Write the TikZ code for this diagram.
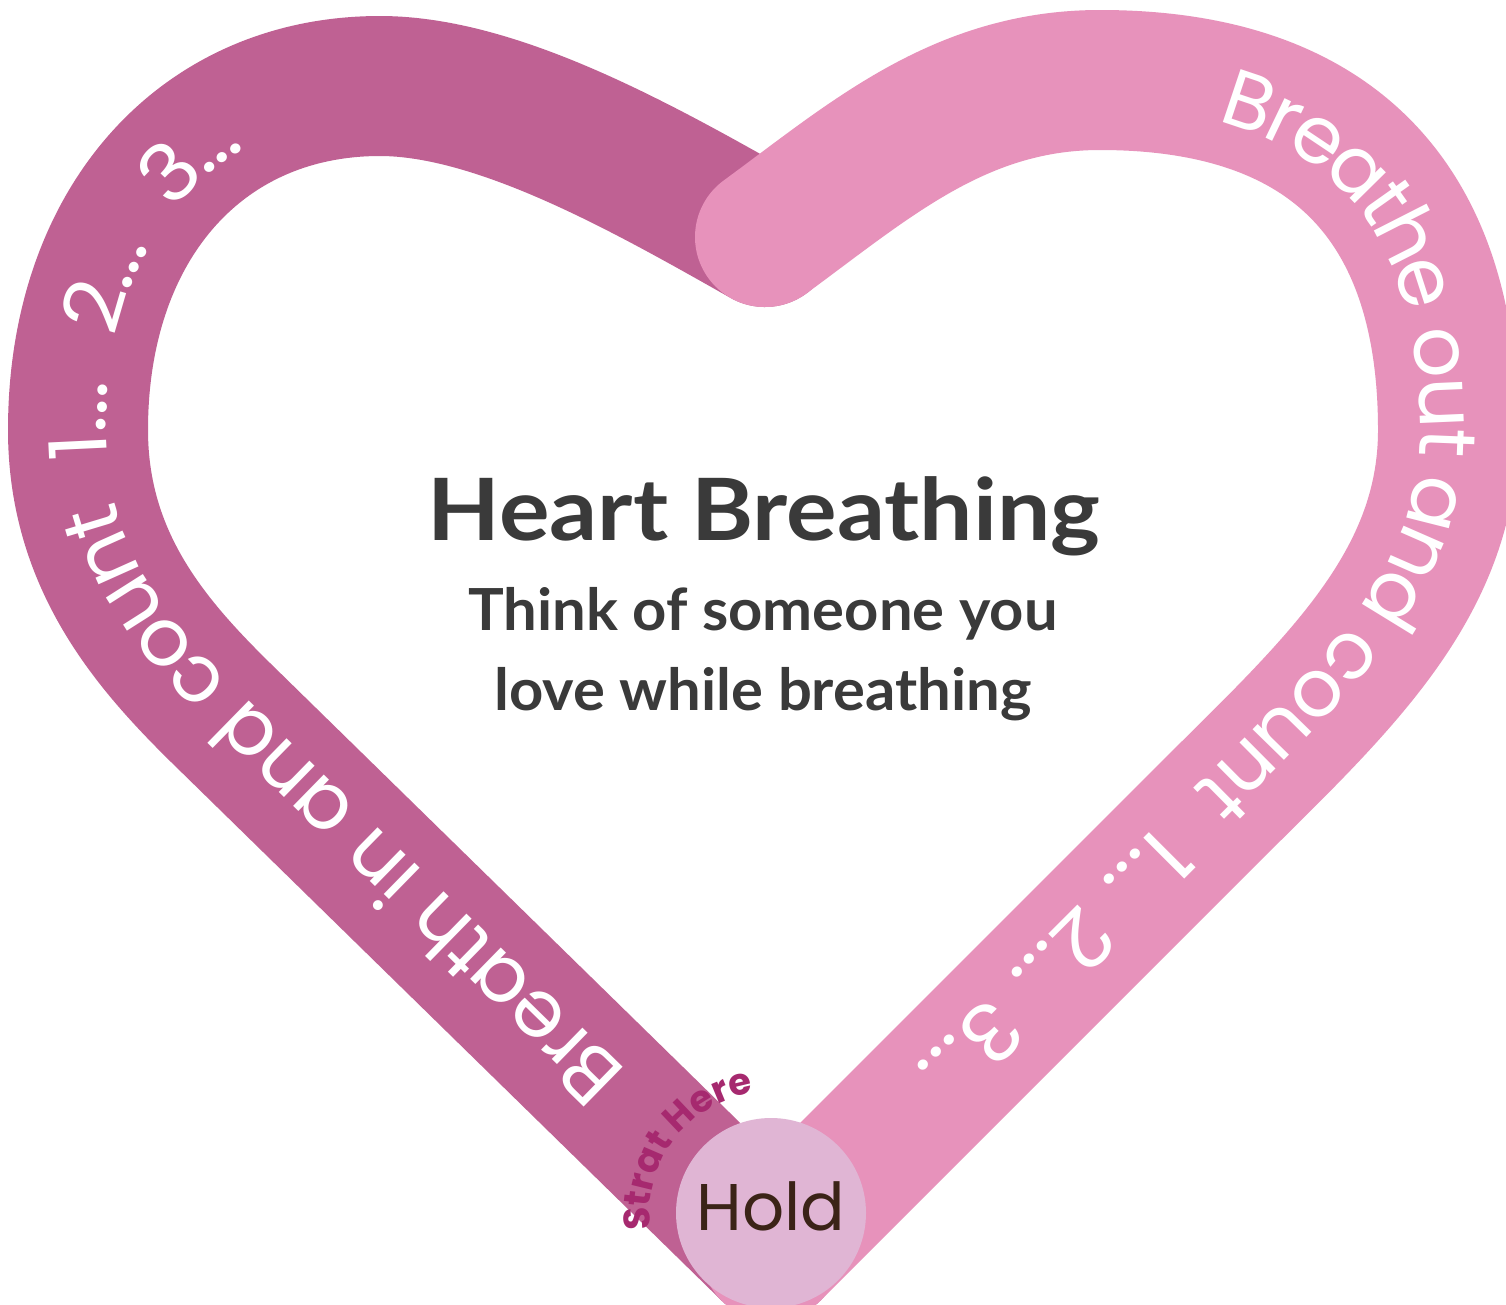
\documentclass[tikz,border=0pt]{standalone}
\usepackage{fontspec}
\usetikzlibrary{decorations.text}
\newfontfamily\titlefont{Lato}[FakeStretch=1.1]
\newfontfamily\subfont{Lato}[FakeStretch=1.03]
\newfontfamily\bandfont{Poppins}
\newfontfamily\gapfont{Poppins}[FakeStretch=1.001,WordSpace=2.3]
\newfontfamily\numleft{Poppins}[FakeStretch=1.07,WordSpace=2.2]
\newfontfamily\numright{Poppins}[FakeStretch=1.071,WordSpace=1.2]
\newfontfamily\holdfont{Poppins}
\definecolor{darkband}{HTML}{BF6193}
\definecolor{lightband}{HTML}{E792BB}
\definecolor{holdfill}{HTML}{E0B5D4}
\definecolor{titlegray}{HTML}{3A3A3A}
\definecolor{holdtext}{HTML}{3B2317}
\definecolor{startcol}{HTML}{A6296F}
\begin{document}
\begin{tikzpicture}[x=1pt,y=-1pt]
\tikzset{
  band/.style={line width=140pt, line cap=round, line join=round},
  bandtext/.style={decorate, decoration={text along path, text color=white, raise=-28pt, text={#1}}},
  titletext/.style={anchor=base, text=titlegray, font=\titlefont\bfseries\fontsize{86}{90}\selectfont},
  subtext/.style={anchor=base, text=titlegray, font=\subfont\bfseries\fontsize{58}{62}\selectfont},
  holdcircle/.style={circle, fill=holdfill, minimum size=190pt, inner sep=0pt, text=holdtext, font=\holdfont\fontsize{66}{66}\selectfont}
}
\clip (0,0) rectangle (1506,1304);
\fill[white] (0,0) rectangle (1506,1304);
\coordinate (B) at (771,1251);
\coordinate (C) at (765,237);
\coordinate (L1) at (220,712);
\coordinate (LX) at (78,430);
\coordinate (LT) at (380,86);
\coordinate (RT) at (1100,80);
\coordinate (RX) at (1448,430);
\coordinate (R1) at (1200,822);
\coordinate (HC) at (771,1213);

\draw[band, darkband] (B) -- (L1) .. controls (150,643) and (78,560) .. (LX) .. controls (78,224) and (201,86) .. (LT) .. controls (500,86) and (650,172) .. (C);
\draw[band, lightband] (C) .. controls (870,160) and (960,80) .. (RT) .. controls (1340,80) and (1448,210) .. (RX) .. controls (1448,590) and (1330,692) .. (R1) -- (B);

\path[bandtext={|\bandfont\fontsize{80}{80}\selectfont|Breath in and count|\gapfont\fontsize{80}{80}\selectfont| |\numleft\fontsize{80}{80}\selectfont|1... 2... 3...}, decoration={text align={left indent=228pt}}] (B) -- (L1) .. controls (150,643) and (78,560) .. (LX) .. controls (78,224) and (201,86) .. (LT) .. controls (500,86) and (650,172) .. (C);
\path[bandtext={|\bandfont\fontsize{80}{80}\selectfont|Breathe out and count|\gapfont\fontsize{80}{80}\selectfont| |\numright\fontsize{80}{80}\selectfont|1... 2... 3...}, decoration={text align={left indent=505pt}}] (C) .. controls (870,160) and (960,80) .. (RT) .. controls (1340,80) and (1448,210) .. (RX) .. controls (1448,590) and (1330,692) .. (R1) -- (B);

\node[holdcircle] (hold) at (HC) {\raisebox{14pt}{Hold}};
\path[decorate, decoration={text along path, text color=startcol, text={|\holdfont\bfseries\fontsize{37}{37}\selectfont|Strat Here}}] (HC) ++(172:121) arc[start angle=172, end angle=280, radius=121];

\node[titletext] (title) at (764,540) {Heart Breathing};
\node[subtext] (sub1) at (763,630) {Think of someone you};
\node[subtext] (sub2) at (763,710) {love while breathing};
\end{tikzpicture}
\end{document}
